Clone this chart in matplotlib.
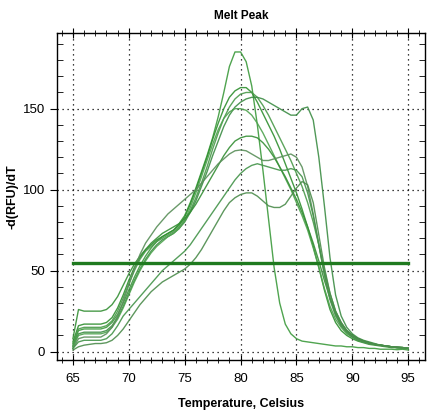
import matplotlib.pyplot as plt
import numpy as np
from matplotlib.ticker import MultipleLocator

# temperature steps of the melt curve (0.5 C)
temp = np.arange(65.0, 95.01, 0.5)

# -d(RFU)/dT for each well
well_1 = [4, 13, 14, 14, 14, 14, 15, 18, 23, 30,
          38, 46, 53, 59, 64, 68, 71, 73, 75, 79,
          84, 92, 101, 111, 121, 132, 145, 160, 176, 185,
          185, 179, 164, 140, 112, 82, 52, 30, 17, 11,
          8, 6.5, 6, 5.5, 5, 4.5, 4, 3.5, 3.5, 3,
          3, 2.5, 2.5, 2, 2, 1.5, 1.5, 1.5, 1.2, 1.5, 1]
well_2 = [6, 16, 17, 17, 17, 17, 18, 21, 27, 35,
          44, 52, 58, 63, 66, 69, 71, 73, 75, 78,
          83, 91, 100, 110, 120, 131, 141, 150, 157, 161,
          163, 163, 160, 154, 147, 140, 133, 125, 116, 107,
          98, 88, 77, 65, 52, 38, 26, 18, 13, 10,
          8, 6.5, 5.5, 4.5, 4, 3.5, 3, 2.5, 2.5, 2, 2]
well_3 = [5, 14, 15, 15, 15, 15, 16, 19, 25, 33,
          42, 50, 57, 62, 65, 68, 70, 72, 74, 77,
          81, 87, 95, 104, 114, 125, 135, 144, 151, 156,
          159, 160, 160, 157, 152, 146, 139, 132, 125, 118,
          110, 102, 92, 80, 66, 50, 36, 25, 18, 13,
          10, 8, 6.5, 5.5, 4.5, 4, 3.5, 3, 2.5, 2.5, 2]
well_4 = [3, 11, 12, 12, 12, 12, 13, 16, 21, 28,
          36, 44, 51, 57, 62, 66, 69, 71, 73, 76,
          80, 86, 93, 102, 111, 121, 130, 139, 146, 151,
          154, 156, 157, 157, 156, 154, 152, 150, 148, 146,
          146, 150, 151, 143, 120, 90, 58, 35, 22, 15,
          11, 8.5, 7, 6, 5, 4, 3.5, 3, 2.5, 2.5, 2]
well_5 = [3, 10, 11, 11, 11, 11, 12, 15, 20, 27,
          35, 43, 50, 56, 61, 65, 68, 71, 73, 76,
          81, 89, 98, 108, 118, 128, 137, 144, 148, 150,
          150, 149, 146, 141, 135, 128, 121, 114, 107, 100,
          92, 84, 75, 64, 52, 39, 28, 20, 15, 11,
          9, 7, 6, 5, 4.5, 4, 3.5, 3, 2.5, 2, 2]
well_6 = [8, 26, 25, 25, 25, 25, 26, 29, 34, 41,
          48, 54, 59, 63, 67, 70, 73, 75, 77, 79,
          82, 86, 91, 97, 103, 109, 115, 121, 126, 130,
          132, 133, 133, 132, 129, 125, 120, 114, 108, 101,
          94, 86, 77, 67, 56, 44, 33, 24, 17, 13,
          10, 8, 6.5, 5.5, 4.5, 4, 3.5, 3, 3, 2.5, 2]
well_7 = [2, 8, 9, 9, 9, 9, 11, 15, 22, 31,
          41, 51, 60, 67, 72, 77, 81, 85, 88, 91,
          94, 97, 100, 104, 108, 112, 116, 119, 122, 124,
          124.5, 124, 122, 120, 118, 118, 119, 120, 121, 122,
          120, 114, 102, 85, 66, 47, 32, 22, 16, 12,
          9, 7.5, 6, 5, 4.5, 4, 3.5, 3, 3, 2.5, 2]
well_8 = [2, 6, 7, 7, 7, 7, 8, 11, 16, 22,
          26, 30, 34, 38, 42, 46, 50, 53, 56, 59,
          62, 66, 71, 76, 81, 86, 91, 96, 101, 106,
          110, 113, 115, 116, 115, 114, 113, 112, 112, 113,
          112, 108, 98, 84, 66, 48, 33, 23, 16, 12,
          9, 7, 6, 5, 4.5, 4, 3.5, 3, 2.5, 2.5, 2]
well_9 = [1, 3, 4, 4.5, 5, 5, 5.5, 7, 10, 14,
          19, 24, 29, 33, 37, 40, 43, 45, 47, 49,
          51, 54, 58, 63, 69, 75, 81, 87, 92, 95,
          97, 98, 98, 96, 93, 90, 89, 89, 91, 96,
          101, 105, 103, 92, 72, 52, 36, 25, 18, 13,
          10, 8, 6.5, 5.5, 4.5, 4, 3.5, 3, 2.5, 2.5, 2]

wells = [well_1, well_2, well_3, well_4, well_5, well_6, well_7, well_8, well_9]
threshold = 55

font = ['Liberation Sans Narrow', 'Liberation Sans', 'DejaVu Sans']
plt.rcParams['font.family'] = font

fig = plt.figure(figsize=(4.28, 4.18), dpi=100)
ax = fig.add_axes([0.133, 0.139, 0.860, 0.782])

colors = ['#3c9a3c', '#2f8f2f', '#4a9a4a', '#3d8d45', '#4fa34f',
          '#358f35', '#5a8f5a', '#44944a', '#4c8c4c']
for vals, c in zip(wells, colors):
    ax.plot(temp, vals, color=c, lw=1.0, alpha=0.9)

# threshold line
ax.plot([65, 95], [threshold, threshold], color='#1f7a1f', lw=2.4)

ax.set_xlim(63.57, 96.5)
ax.set_ylim(-5.1, 196.7)
ax.xaxis.set_major_locator(MultipleLocator(5))
ax.xaxis.set_minor_locator(MultipleLocator(1))
ax.yaxis.set_major_locator(MultipleLocator(50))
ax.yaxis.set_minor_locator(MultipleLocator(10))
ax.grid(True, which='major', color='black', ls=(0, (1, 3)), lw=0.9)

ax.tick_params(axis='x', which='both', direction='inout', top=True, labelsize=9.5, pad=6)
ax.tick_params(axis='x', which='major', length=7)
ax.tick_params(axis='x', which='minor', length=5)
ax.tick_params(axis='y', which='major', direction='out', length=5, labelsize=9.5)
ax.tick_params(axis='y', which='minor', direction='in', length=4, right=True)
for s in ax.spines.values():
    s.set_linewidth(1.0)

ax.set_title('Melt Peak', fontsize=8.5, fontweight='bold', pad=10)
ax.set_xlabel('Temperature, Celsius', fontsize=9, fontweight='bold', labelpad=9)
ax.set_ylabel('-d(RFU)/dT', fontsize=9, fontweight='bold')
ax.yaxis.set_label_coords(-0.105, 0.5)

fig.savefig('out.png', dpi=100)
